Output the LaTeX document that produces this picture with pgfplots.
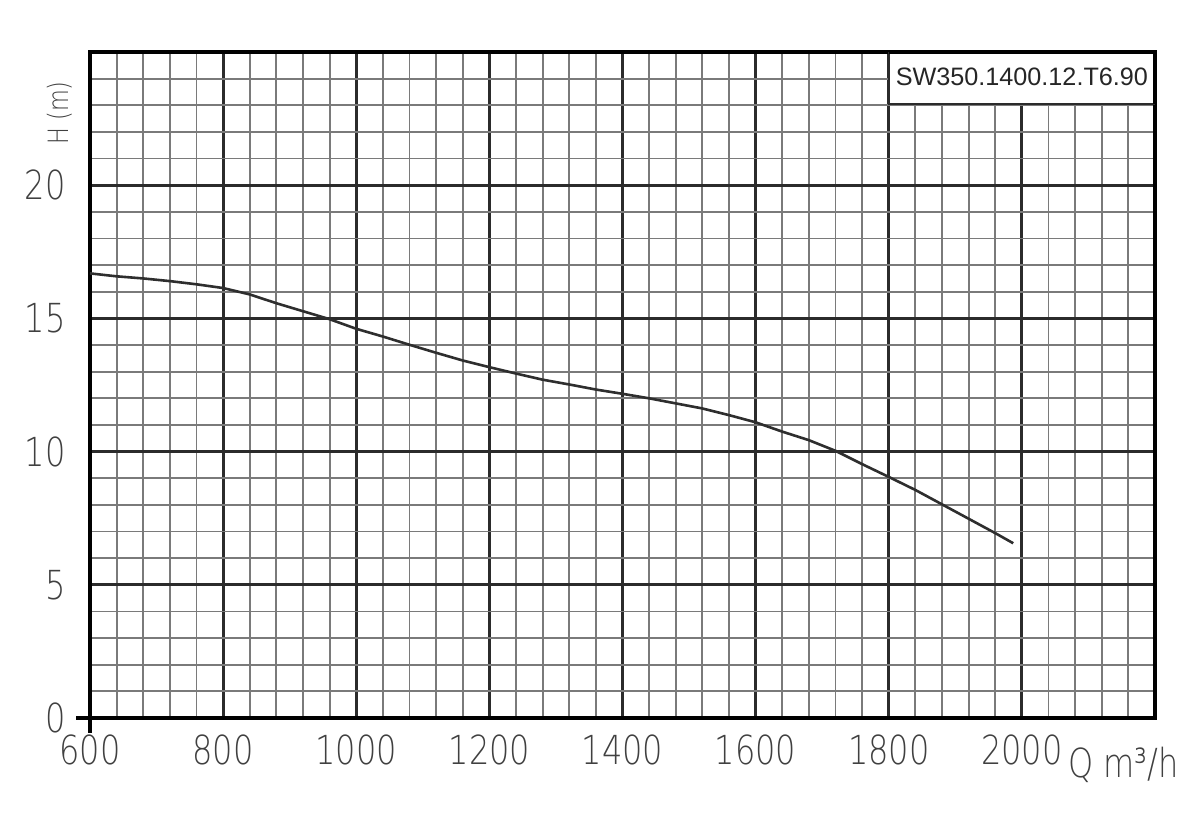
\documentclass[border=0pt]{standalone}
\usepackage{fontspec}
\usepackage{pgfplots}
\pgfplotsset{compat=1.18}
\setmainfont{Liberation Sans}
\IfFontExistsTF{DejaVu Sans ExtraLight}{\newfontfamily\isofont{DejaVu Sans ExtraLight}[FakeStretch=0.8]}{\newfontfamily\isofont{DejaVu Sans}[FakeStretch=0.8]}
\definecolor{majorc}{HTML}{2B2B2B}
\definecolor{minorc}{HTML}{7A7A7A}
\definecolor{curvec}{HTML}{2E2E2E}
\begin{document}
\begin{tikzpicture}
\begin{axis}[
  scale only axis, width=532.5pt, height=333pt,
  xmin=600, xmax=2200, ymin=0, ymax=25,
  xtick={600,800,...,2200}, xticklabels={600,800,1000,1200,1400,1600,1800,2000,},
  ytick={0,5,...,25}, yticklabels={0,5,10,15,20,},
  minor xtick={600,640,...,2200}, minor ytick={0,1,...,25},
  grid=both,
  major grid style={draw=majorc, line width=1.4pt},
  minor grid style={draw=minorc, line width=0.9pt},
  major tick length=0pt, minor tick length=0pt,
  axis line style={line width=1.8pt, black},
  /pgf/number format/assume math mode=true,
  tick label style={font=\isofont\fontsize{20}{24}\selectfont, text=black!75},
  xticklabel style={anchor=north, inner sep=0pt, yshift=-8pt},
  yticklabel style={anchor=east, inner sep=0pt, xshift=-12pt},
  clip=false,
]
\addplot[color=curvec, line width=1.3pt, no markers] coordinates {
(600,16.69) (640,16.58) (680,16.5) (720,16.4) (760,16.28) (800,16.14)
(840,15.9) (880,15.57) (920,15.27) (960,14.97) (1000,14.61) (1040,14.32)
(1080,14.01) (1120,13.71) (1160,13.42) (1200,13.17) (1240,12.93) (1280,12.70)
(1320,12.52) (1360,12.33) (1400,12.17) (1440,12.0) (1480,11.81) (1520,11.62)
(1560,11.37) (1600,11.1) (1640,10.75) (1680,10.43) (1720,10.03) (1760,9.53)
(1800,9.05) (1840,8.56) (1880,8.02) (1920,7.48) (1960,6.94) (1987,6.56)
};
\fill[white] (axis cs:1800,23.05) rectangle (axis cs:2200,25);
\draw[line width=1.2pt, majorc] (axis cs:1800,25) |- (axis cs:2200,23.05);
\draw[line width=1.8pt, black] (axis cs:1800,25) -| (axis cs:2200,23.05);
\node[anchor=base, font=\fontsize{12.6}{15}\selectfont, text=black!85] at (axis cs:2000,23.73) {SW350.1400.12.T6.90};
\draw[line width=1.8pt, black] (axis cs:600,0) -- ++(-7pt,0pt);
\draw[line width=1.8pt, black] (axis cs:600,0) -- ++(0pt,-7.5pt);
\node[anchor=base west, inner sep=0pt, font=\isofont\fontsize{20}{24}\selectfont, text=black!75] at ([xshift=-43.5pt,yshift=-29.5pt]rel axis cs:1,0) {Q m³/h};
\node[rotate=90, inner sep=0pt, font=\isofont\fontsize{14}{17}\selectfont, text=black!75] at ([xshift=-15pt,yshift=-30.5pt]rel axis cs:0,1) {H (m)};
\end{axis}
\pgfresetboundingbox
\path[use as bounding box] (current axis.south west) ++(-45pt,-57pt) rectangle ++(600pt,416pt);
\end{tikzpicture}
\end{document}
